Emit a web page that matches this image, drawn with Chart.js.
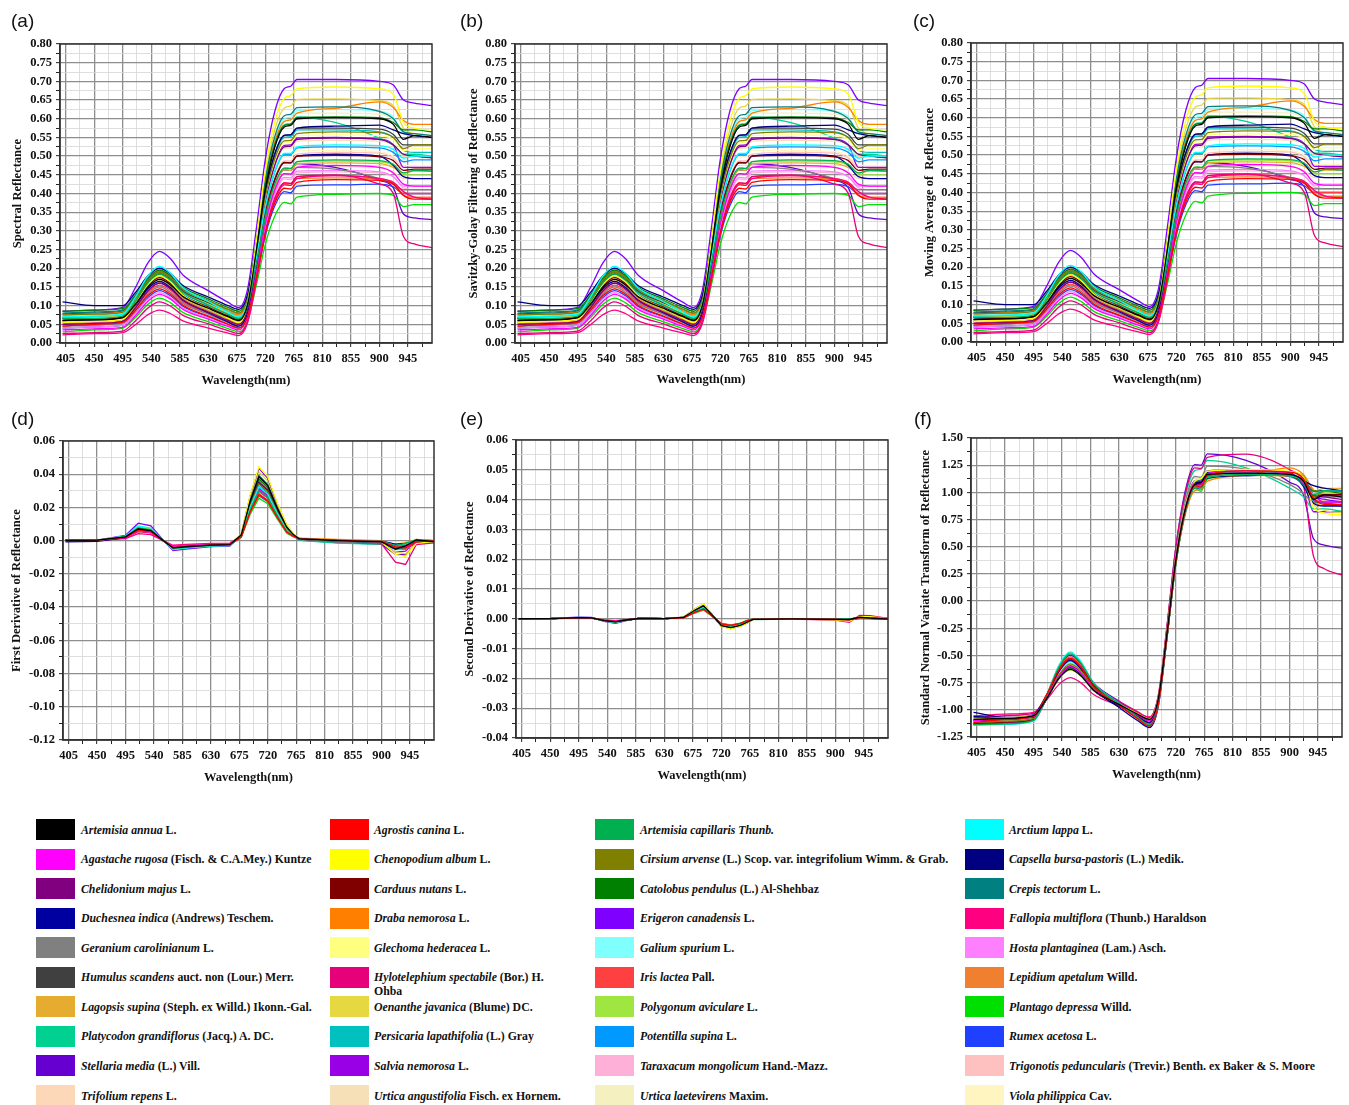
<!DOCTYPE html>
<html>
<head>
<meta charset="utf-8">
<title>Leaf spectra of 40 weed species</title>
<script src="https://cdn.jsdelivr.net/npm/chart.js@4.4.1/dist/chart.umd.min.js"></script>
<style>
  html, body { margin: 0; padding: 0; background: #fff; }
  #page { position: relative; width: 1349px; height: 1105px; overflow: hidden; }
  #page canvas { position: absolute; }
  .tag { position: absolute; font: 19px "Liberation Sans", Arial, sans-serif; line-height: 1; color: #111; }
  .sw { position: absolute; width: 39px; height: 21px; }
  .lt { position: absolute; font: bold 11.8px "Liberation Serif", "Times New Roman", serif; line-height: 14px; color: #111; white-space: pre; }
  .lt i { font-style: italic; }
</style>
</head>
<body>
<div id="page"></div>
<script>
// ---- sampling wavelengths (nm) ----
const wavelengths = [400, 450, 495, 515, 535, 553, 570, 590, 630, 660, 678, 692, 706, 720, 735, 750, 760, 770, 830, 900, 922, 938, 955, 983];

// ---- axis tick labels ----
const wavelengthTicks = [405, 450, 495, 540, 585, 630, 675, 720, 765, 810, 855, 900, 945];
const reflectanceTicks = [0.00, 0.05, 0.10, 0.15, 0.20, 0.25, 0.30, 0.35, 0.40, 0.45, 0.50, 0.55, 0.60, 0.65, 0.70, 0.75, 0.80];
const firstDerivTicks = [-0.12, -0.10, -0.08, -0.06, -0.04, -0.02, 0.00, 0.02, 0.04, 0.06];
const secondDerivTicks = [-0.04, -0.03, -0.02, -0.01, 0.00, 0.01, 0.02, 0.03, 0.04, 0.05, 0.06];
const snvTicks = [-1.25, -1.00, -0.75, -0.50, -0.25, 0.00, 0.25, 0.50, 0.75, 1.00, 1.25, 1.50];

// ---- spectral reflectance of each species at the sampling wavelengths ----
const artemisiaAnnua        = [.060,.062,.068,.104,.150,.170,.156,.124,.093,.071,.060,.103,.249,.411,.524,.578,.582,.600,.603,.600,.585,.545,.555,.550];
const agrostisCanina        = [.045,.050,.055,.087,.127,.145,.131,.101,.072,.051,.040,.071,.177,.294,.375,.414,.412,.430,.437,.435,.425,.395,.385,.385];
const artemisiaCapillaris   = [.065,.066,.072,.112,.162,.185,.169,.135,.101,.077,.065,.099,.212,.338,.426,.468,.467,.485,.490,.488,.478,.455,.462,.460];
const arctiumLappa          = [.070,.072,.078,.123,.180,.205,.187,.148,.111,.084,.070,.106,.229,.366,.461,.507,.507,.525,.530,.528,.518,.495,.500,.500];
const agastacheRugosa       = [.035,.038,.042,.073,.112,.130,.118,.090,.064,.045,.035,.070,.187,.318,.409,.453,.452,.470,.475,.470,.455,.425,.420,.420];
const chenopodiumAlbum      = [.055,.058,.064,.105,.157,.180,.164,.128,.093,.068,.055,.105,.274,.461,.593,.655,.662,.680,.685,.680,.665,.590,.575,.570];
const cirsiumArvense        = [.075,.077,.082,.120,.168,.190,.176,.144,.113,.091,.080,.118,.248,.392,.493,.541,.542,.560,.565,.563,.550,.520,.530,.530];
const capsellaBursaPastoris = [.110,.100,.100,.135,.180,.200,.186,.154,.123,.101,.090,.129,.260,.405,.507,.556,.557,.575,.580,.583,.570,.560,.555,.550];
const chelidoniumMajus      = [.050,.052,.058,.094,.140,.160,.146,.114,.083,.061,.050,.090,.223,.372,.476,.525,.527,.545,.548,.545,.530,.505,.500,.495];
const carduusNutans         = [.060,.063,.068,.106,.154,.175,.160,.128,.096,.073,.062,.097,.215,.347,.439,.483,.482,.500,.502,.498,.488,.462,.465,.465];
const catolobusPendulus     = [.085,.088,.092,.128,.174,.195,.181,.149,.118,.096,.085,.126,.266,.422,.531,.582,.585,.603,.605,.603,.590,.570,.570,.565];
const crepisTectorum        = [.080,.083,.088,.124,.170,.190,.176,.144,.113,.091,.080,.124,.273,.438,.553,.608,.612,.630,.632,.620,.600,.565,.560,.555];
const duchesneaIndica       = [.065,.062,.068,.102,.146,.165,.149,.115,.081,.057,.045,.081,.204,.341,.436,.482,.482,.500,.505,.500,.475,.445,.440,.440];
const drabaNemorosa         = [.075,.078,.083,.122,.173,.195,.179,.145,.111,.087,.075,.118,.264,.426,.539,.593,.597,.615,.628,.645,.630,.595,.585,.585];
const erigeronCanadensis    = [.085,.088,.095,.148,.215,.245,.226,.182,.140,.110,.095,.144,.309,.492,.620,.681,.687,.705,.705,.700,.690,.650,.642,.635];
const fallopiaMultiflora    = [.022,.025,.028,.049,.076,.088,.079,.059,.040,.027,.020,.054,.167,.293,.381,.423,.422,.440,.448,.440,.430,.405,.390,.385];
const geraniumCarolinianum  = [.045,.048,.053,.087,.131,.150,.136,.106,.077,.056,.045,.079,.194,.321,.411,.453,.452,.470,.465,.440,.425,.410,.410,.410];
const glechomaHederacea     = [.058,.060,.066,.104,.153,.175,.160,.127,.095,.072,.060,.100,.233,.382,.486,.535,.537,.555,.557,.555,.545,.515,.520,.520];
const galiumSpurium         = [.072,.075,.080,.124,.180,.205,.188,.150,.114,.088,.075,.119,.267,.431,.545,.600,.604,.622,.625,.620,.605,.560,.555,.550];
const hostaPlantaginea      = [.040,.043,.048,.079,.118,.135,.122,.094,.067,.048,.038,.072,.186,.312,.401,.443,.442,.460,.462,.458,.445,.420,.420,.420];
const humulusScandens       = [.078,.080,.085,.120,.165,.185,.171,.139,.108,.086,.075,.115,.250,.400,.505,.555,.557,.575,.575,.572,.558,.530,.530,.530];
const hylotelephiumSpect    = [.025,.028,.032,.059,.094,.110,.099,.074,.051,.034,.025,.059,.172,.298,.386,.428,.427,.445,.450,.425,.400,.285,.265,.255];
const irisLactea            = [.050,.053,.058,.092,.136,.155,.141,.110,.080,.059,.048,.080,.187,.306,.389,.429,.427,.445,.448,.440,.428,.400,.400,.400];
const lepidiumApetalum      = [.055,.058,.063,.099,.145,.165,.150,.118,.086,.063,.052,.083,.188,.304,.386,.425,.422,.440,.442,.438,.425,.395,.390,.390];
const lagopsisSupina        = [.060,.063,.068,.104,.150,.170,.156,.124,.093,.071,.060,.094,.207,.333,.421,.463,.462,.480,.482,.480,.470,.455,.460,.460];
const oenantheJavanica      = [.065,.068,.073,.114,.167,.190,.174,.140,.106,.082,.070,.117,.274,.448,.571,.629,.634,.652,.653,.648,.635,.575,.560,.555];
const polygonumAviculare    = [.055,.058,.063,.099,.145,.165,.151,.119,.088,.066,.055,.089,.206,.335,.425,.468,.467,.485,.487,.485,.475,.450,.450,.450];
const plantagoDepressa      = [.030,.035,.040,.068,.104,.120,.108,.082,.057,.039,.030,.059,.156,.264,.340,.376,.372,.390,.398,.400,.395,.365,.370,.370];
const platycodonGrandiflorus= [.068,.070,.075,.114,.163,.185,.170,.136,.103,.080,.068,.111,.256,.417,.530,.584,.587,.605,.590,.548,.530,.505,.505,.500];
const persicariaLapathifolia= [.070,.072,.078,.117,.168,.190,.174,.140,.106,.082,.070,.110,.245,.395,.500,.550,.552,.570,.570,.565,.550,.515,.510,.510];
const potentillaSupina      = [.062,.065,.070,.109,.158,.180,.165,.130,.097,.074,.062,.099,.223,.361,.458,.504,.504,.522,.525,.522,.510,.485,.490,.490];
const rumexAcetosa          = [.040,.043,.048,.080,.122,.140,.127,.098,.070,.050,.040,.070,.173,.287,.367,.405,.402,.420,.423,.425,.418,.400,.400,.400];
const stellariaMedia        = [.050,.053,.058,.094,.140,.160,.146,.116,.087,.066,.055,.089,.204,.331,.421,.463,.462,.480,.470,.435,.415,.345,.335,.330];
const salviaNemorosa        = [.068,.070,.075,.115,.167,.190,.174,.139,.105,.080,.068,.106,.236,.380,.481,.529,.530,.548,.550,.545,.530,.470,.470,.470];
const taraxacumMongolicum   = [.045,.048,.053,.087,.131,.150,.136,.106,.077,.056,.045,.078,.189,.312,.398,.439,.437,.455,.458,.455,.445,.415,.410,.410];
const trigonotisPeduncularis= [.050,.053,.058,.094,.140,.160,.146,.114,.083,.061,.050,.086,.209,.346,.441,.487,.487,.505,.510,.508,.495,.470,.470,.470];
const trifoliumRepens       = [.040,.043,.048,.082,.126,.145,.132,.102,.073,.052,.042,.076,.192,.320,.410,.453,.452,.470,.472,.470,.458,.440,.440,.440];
const urticaAngustifolia    = [.065,.068,.073,.112,.163,.185,.169,.135,.101,.077,.065,.103,.231,.374,.474,.521,.522,.540,.542,.540,.528,.500,.500,.500];
const urticaLaetevirens     = [.070,.073,.078,.119,.172,.195,.179,.143,.109,.084,.072,.115,.262,.425,.539,.593,.597,.615,.615,.612,.598,.560,.555,.550];
const violaPhilippica       = [.055,.058,.063,.101,.149,.170,.155,.122,.090,.067,.056,.093,.217,.354,.451,.497,.497,.515,.515,.512,.500,.475,.475,.475];

// legend order (row by row, four columns)
const reflectance = [
  artemisiaAnnua, agrostisCanina, artemisiaCapillaris, arctiumLappa,
  agastacheRugosa, chenopodiumAlbum, cirsiumArvense, capsellaBursaPastoris,
  chelidoniumMajus, carduusNutans, catolobusPendulus, crepisTectorum,
  duchesneaIndica, drabaNemorosa, erigeronCanadensis, fallopiaMultiflora,
  geraniumCarolinianum, glechomaHederacea, galiumSpurium, hostaPlantaginea,
  humulusScandens, hylotelephiumSpect, irisLactea, lepidiumApetalum,
  lagopsisSupina, oenantheJavanica, polygonumAviculare, plantagoDepressa,
  platycodonGrandiflorus, persicariaLapathifolia, potentillaSupina, rumexAcetosa,
  stellariaMedia, salviaNemorosa, taraxacumMongolicum, trigonotisPeduncularis,
  trifoliumRepens, urticaAngustifolia, urticaLaetevirens, violaPhilippica
];

const speciesNames = [
  'Artemisia annua', 'Agrostis canina', 'Artemisia capillaris Thunb.', 'Arctium lappa',
  'Agastache rugosa', 'Chenopodium album', 'Cirsium arvense', 'Capsella bursa-pastoris',
  'Chelidonium majus', 'Carduus nutans', 'Catolobus pendulus', 'Crepis tectorum',
  'Duchesnea indica', 'Draba nemorosa', 'Erigeron canadensis', 'Fallopia multiflora',
  'Geranium carolinianum', 'Glechoma hederacea', 'Galium spurium', 'Hosta plantaginea',
  'Humulus scandens', 'Hylotelephium spectabile', 'Iris lactea', 'Lepidium apetalum',
  'Lagopsis supina', 'Oenanthe javanica', 'Polygonum aviculare', 'Plantago depressa',
  'Platycodon grandiflorus', 'Persicaria lapathifolia', 'Potentilla supina', 'Rumex acetosa',
  'Stellaria media', 'Salvia nemorosa', 'Taraxacum mongolicum', 'Trigonotis peduncularis',
  'Trifolium repens', 'Urtica angustifolia', 'Urtica laetevirens', 'Viola philippica'
];

const speciesAuthors = [
  ' L.', ' L.', '', ' L.',
  ' (Fisch. & C.A.Mey.) Kuntze', ' L.', ' (L.) Scop. var. integrifolium Wimm. & Grab.', ' (L.) Medik.',
  ' L.', ' L.', ' (L.) Al-Shehbaz', ' L.',
  ' (Andrews) Teschem.', ' L.', ' L.', ' (Thunb.) Haraldson',
  ' L.', ' L.', ' L.', ' (Lam.) Asch.',
  ' auct. non (Lour.) Merr.', ' (Bor.) H.\nOhba', ' Pall.', ' Willd.',
  ' (Steph. ex Willd.) Ikonn.-Gal.', ' (Blume) DC.', ' L.', ' Willd.',
  ' (Jacq.) A. DC.', ' (L.) Gray', ' L.', ' L.',
  ' (L.) Vill.', ' L.', ' Hand.-Mazz.', ' (Trevir.) Benth. ex Baker & S. Moore',
  ' L.', ' Fisch. ex Hornem.', ' Maxim.', ' Cav.'
];

const speciesColors = [
  '#000000', '#FF0000', '#00B050', '#00FFFF',
  '#FF00FF', '#FFFF00', '#808000', '#000080',
  '#800080', '#800000', '#008000', '#008080',
  '#0000A0', '#FF8000', '#8000FF', '#FF0080',
  '#808080', '#FFFF80', '#80FFFF', '#FF80FF',
  '#404040', '#E6007A', '#FF4040', '#F08030',
  '#E6AC30', '#E6D840', '#A0E640', '#00E000',
  '#00D090', '#00C0C0', '#0099FF', '#2040FF',
  '#6600D0', '#9900E6', '#FFB0D8', '#FFC0C0',
  '#FCD8B8', '#F5E0B8', '#F5F0C0', '#FFF5C0'
];

// ---- spectral preprocessing ----
const SAMPLING_INTERVAL_NM = 3.5;   // derivatives are expressed per band

function derivative(wl, r) {
  const n = r.length;
  return r.map((v, i) => {
    const a = Math.max(0, i - 1), b = Math.min(n - 1, i + 1);
    return (r[b] - r[a]) / (wl[b] - wl[a]) * SAMPLING_INTERVAL_NM;
  });
}

function standardNormalVariate(wl, r) {
  let span = 0, s = 0, s2 = 0;
  for (let i = 1; i < wl.length; i++) {
    const h = wl[i] - wl[i - 1];
    s += h * (r[i] + r[i - 1]) / 2;
    s2 += h * (r[i] * r[i] + r[i - 1] * r[i - 1]) / 2;
    span += h;
  }
  const mean = s / span;
  const sd = Math.sqrt(s2 / span - mean * mean);
  return r.map(v => (v - mean) / sd);
}

const firstDeriv = reflectance.map(r => derivative(wavelengths, r));
const secondDeriv = firstDeriv.map(d => derivative(wavelengths, d));
const snv = reflectance.map(r => standardNormalVariate(wavelengths, r));

// ---- drawing ----
Chart.defaults.font.family = '"Liberation Serif", "Times New Roman", serif';
Chart.defaults.font.weight = 'bold';
Chart.defaults.font.size = 12.5;
Chart.defaults.color = '#111';

const page = document.getElementById('page');

const framePlugin = {
  id: 'frame',
  afterDraw(chart) {
    const { ctx, chartArea: a } = chart;
    ctx.save();
    ctx.strokeStyle = '#333';
    ctx.lineWidth = 1.5;
    ctx.strokeRect(a.left, a.top, a.right - a.left, a.bottom - a.top);
    ctx.restore();
  }
};

function withMinors(majors, extraEnd) {
  const out = [];
  majors.forEach((v, i) => {
    out.push({ value: v, isMajor: true });
    if (i < majors.length - 1) out.push({ value: (v + majors[i + 1]) / 2, isMajor: false });
  });
  if (extraEnd !== undefined) out.push({ value: extraEnd, isMajor: false });
  return out;
}

const X_MIN = 396, X_MAX = 983;
const CANVAS_H = 370;
const TITLE_HALF = 7.5;   // half the line height of the axis titles

function makePanel(p) {
  const canvas = document.createElement('canvas');
  canvas.width = p.w; canvas.height = CANVAS_H;
  canvas.style.left = p.left + 'px'; canvas.style.top = p.top + 'px';
  canvas.style.width = p.w + 'px'; canvas.style.height = CANVAS_H + 'px';
  page.appendChild(canvas);

  const tag = document.createElement('div');
  tag.className = 'tag';
  tag.textContent = p.tag;
  tag.style.left = p.tagX + 'px'; tag.style.top = p.tagY + 'px';
  page.appendChild(tag);

  const xTicks = withMinors(wavelengthTicks, (wavelengthTicks[wavelengthTicks.length - 1] + X_MAX + 7) / 2);
  const yTicks = withMinors(p.yTicks);

  const gridColor = c => (c.tick && c.tick.isMajor) ? '#8e8e8e' : '#d6d6d6';
  const gridWidth = c => (c.tick && c.tick.isMajor) ? 1.3 : 0.8;

  const datasets = p.series.map((s, k) => ({
    label: speciesNames[k],
    data: wavelengths.map((w, i) => ({ x: w, y: s[i] })),
    borderColor: speciesColors[k],
    backgroundColor: speciesColors[k],
    borderWidth: 1.3,
    pointRadius: 0,
    fill: false,
    cubicInterpolationMode: p.smooth ? 'monotone' : 'default',
    tension: 0
  }));

  new Chart(canvas, {
    type: 'line',
    data: { datasets },
    options: {
      responsive: false,
      animation: false,
      parsing: false,
      layout: { padding: { left: 0, top: p.T - p.top, right: p.left + p.w - p.R, bottom: 0 } },
      plugins: { legend: { display: false }, tooltip: { enabled: false } },
      scales: {
        x: {
          type: 'linear', min: X_MIN, max: X_MAX,
          afterBuildTicks: s => { s.ticks = xTicks.map(t => ({ value: t.value, isMajor: t.isMajor })); },
          afterFit: s => { s.height = p.top + CANVAS_H - p.B; },
          ticks: {
            autoSkip: false, maxRotation: 0, padding: 4,
            callback: (v, i, ticks) => ticks[i].isMajor ? String(v) : ''
          },
          grid: { color: gridColor, lineWidth: gridWidth, tickLength: 4, tickColor: '#222', tickWidth: 1 },
          border: { display: true, color: '#333', width: 1.5 },
          title: { display: true, text: 'Wavelength(nm)', padding: { top: 0, bottom: p.xTitleC - TITLE_HALF } }
        },
        y: {
          type: 'linear', min: p.yTicks[0], max: p.yTicks[p.yTicks.length - 1],
          afterBuildTicks: s => { s.ticks = yTicks.map(t => ({ value: t.value, isMajor: t.isMajor })); },
          afterFit: s => { s.width = p.L - p.left; },
          ticks: {
            autoSkip: false, padding: 4,
            callback: (v, i, ticks) => ticks[i].isMajor ? v.toFixed(2) : ''
          },
          grid: { color: gridColor, lineWidth: gridWidth, tickLength: 4, tickColor: '#222', tickWidth: 1 },
          border: { display: true, color: '#333', width: 1.5 },
          title: { display: true, text: p.yTitle, padding: { top: p.yTitleC - TITLE_HALF, bottom: 0 } }
        }
      }
    },
    plugins: [framePlugin]
  });
}

// yTitleC / xTitleC: distance of each axis title's centre from the canvas edge
const panels = [
  { tag: '(a)', tagX: 11, tagY: 11, left: 0,   top: 30,  w: 445, L: 60,  T: 44,  R: 432,  B: 343, yTitle: 'Spectral Reflectance', yTitleC: 18, xTitleC: 19, yTicks: reflectanceTicks, series: reflectance, smooth: true },
  { tag: '(b)', tagX: 460, tagY: 11, left: 455, top: 30,  w: 445, L: 515, T: 44,  R: 887,  B: 343, yTitle: 'Savitzky-Golay Filtering of Reflectance', yTitleC: 19, xTitleC: 20, yTicks: reflectanceTicks, series: reflectance, smooth: true },
  { tag: '(c)', tagX: 913, tagY: 11, left: 905, top: 30,  w: 444, L: 971, T: 43,  R: 1343, B: 342, yTitle: 'Moving Average of  Reflectance', yTitleC: 25, xTitleC: 20, yTicks: reflectanceTicks, series: reflectance, smooth: true },
  { tag: '(d)', tagX: 11, tagY: 409, left: 0,   top: 425, w: 445, L: 63,  T: 441, R: 434,  B: 740, yTitle: 'First Derivative of Reflectance', yTitleC: 17, xTitleC: 17, yTicks: firstDerivTicks, series: firstDeriv, smooth: false },
  { tag: '(e)', tagX: 460, tagY: 409, left: 455, top: 425, w: 445, L: 516, T: 440, R: 888,  B: 738, yTitle: 'Second Derivative of Reflectance', yTitleC: 15, xTitleC: 19, yTicks: secondDerivTicks, series: secondDeriv, smooth: false },
  { tag: '(f)', tagX: 914, tagY: 409, left: 905, top: 425, w: 444, L: 971, T: 438, R: 1342, B: 737, yTitle: 'Standard Normal Variate Transform of Reflectance', yTitleC: 21, xTitleC: 20, yTicks: snvTicks, series: snv, smooth: true }
];
panels.forEach(makePanel);

// ---- species legend ----
const swatchX = [36, 330, 595, 965];
const textX = [81, 374, 640, 1009];
const ROW0 = 819, ROW_STEP = 29.56;
speciesNames.forEach((name, k) => {
  const row = Math.floor(k / 4), col = k % 4;
  const top = ROW0 + row * ROW_STEP;
  const sw = document.createElement('div');
  sw.className = 'sw';
  sw.style.left = swatchX[col] + 'px';
  sw.style.top = top + 'px';
  sw.style.background = speciesColors[k];
  page.appendChild(sw);
  const t = document.createElement('div');
  t.className = 'lt';
  t.style.left = textX[col] + 'px';
  t.style.top = (top + 3.5) + 'px';
  const it = document.createElement('i');
  it.textContent = name;
  t.appendChild(it);
  t.appendChild(document.createTextNode(speciesAuthors[k]));
  page.appendChild(t);
});
</script>
</body>
</html>
